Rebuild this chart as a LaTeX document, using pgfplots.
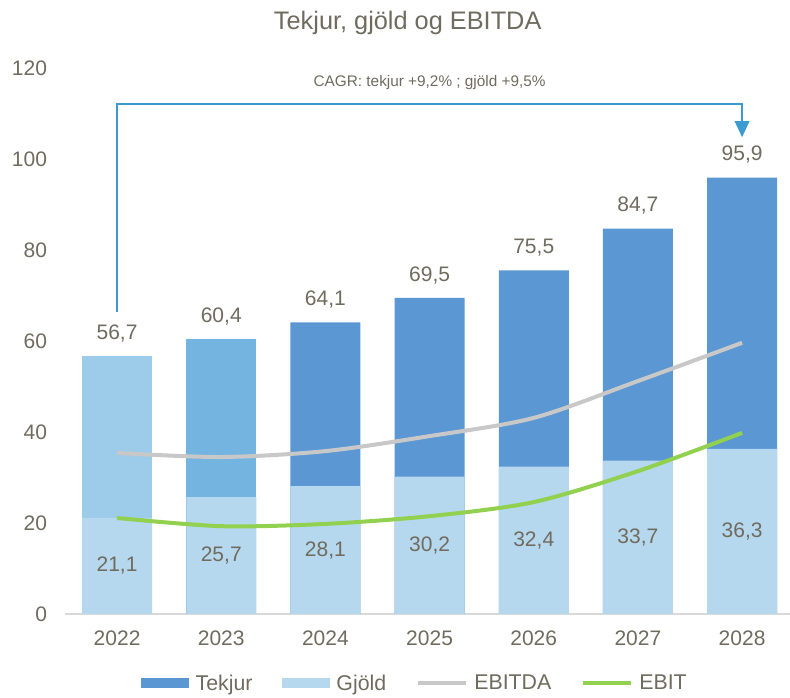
\documentclass[border=0pt]{standalone}
\usepackage{fontspec}
\setmainfont{Liberation Sans}
\usepackage{pgfplots}
\pgfplotsset{compat=1.18}
\usetikzlibrary{arrows.meta}
\definecolor{tekA}{HTML}{9DCBEA}
\definecolor{tekB}{HTML}{74B4E1}
\definecolor{tekC}{HTML}{5B97D3}
\definecolor{gjold}{HTML}{B6D8EE}
\definecolor{ebitda}{HTML}{C8C8C8}
\definecolor{ebit}{HTML}{92D050}
\definecolor{txt}{HTML}{706B5F}
\definecolor{arr}{HTML}{3C9AD3}
\definecolor{axl}{HTML}{D9D9D9}
\pgfplotsset{
  barleg/.style={legend image code/.code={\fill[##1] (0pt,-3.75pt) rectangle (36pt,3.75pt);}},
  lineleg/.style={legend image code/.code={\draw[##1] (0pt,0pt) -- (36pt,0pt);}},
  numlab/.style={nodes near coords={\pgfmathprintnumber[fixed,fixed zerofill,precision=1,use comma]{\pgfplotspointmeta}}},
}
\begin{document}
\begin{tikzpicture}
\useasboundingbox (-48.75pt,-63pt) rectangle (543.75pt,460.5pt);
\begin{axis}[
  at={(0pt,0pt)}, anchor=south west,
  scale only axis, width=543.75pt, height=409.5pt,
  xmin=-0.5, xmax=6.46, ymin=0, ymax=120,
  axis x line*=bottom, axis y line*=left,
  x axis line style={draw=axl, line width=1.5pt},
  y axis line style={draw=none},
  xtick={0,1,2,3,4,5,6},
  xticklabels={2022,2023,2024,2025,2026,2027,2028},
  ytick={0,20,40,60,80,100,120},
  major tick length=0pt,
  /pgf/number format/assume math mode=true,
  tick label style={font=\fontsize{15.75}{18}\selectfont, text=txt},
  xticklabel style={yshift=-9pt},
  yticklabel style={xshift=-10pt},
  clip=false,
  legend columns=4,
  legend style={draw=none, fill=none, at={(0.483,-0.127)}, anchor=center,
    font=\fontsize{16}{18}\selectfont, text=txt,
    /tikz/every even column/.append style={column sep=20pt},
    /tikz/every odd column/.append style={column sep=3pt},
    cells={anchor=west}},
  nodes near coords style={font=\fontsize{15.75}{18}\selectfont, text=txt},
]
% Tekjur
\addplot[ybar, bar width=0.672, bar shift=0pt, fill=tekA, draw=none, forget plot, numlab,
  every node near coord/.append style={anchor=south, yshift=7pt}]
  coordinates {(0,56.7)};
\addplot[ybar, bar width=0.672, bar shift=0pt, fill=tekB, draw=none, forget plot, numlab,
  every node near coord/.append style={anchor=south, yshift=7pt}]
  coordinates {(1,60.4)};
\addplot[ybar, bar width=0.672, bar shift=0pt, fill=tekC, draw=none, barleg, numlab,
  every node near coord/.append style={anchor=south, yshift=7pt}]
  coordinates {(2,64.1) (3,69.5) (4,75.5) (5,84.7) (6,95.9)};
\addlegendentry{Tekjur}
% Gjold
\addplot[ybar, bar width=0.672, bar shift=0pt, fill=gjold, draw=none, barleg, numlab,
  visualization depends on={y \as \rawy},
  every node near coord/.append style={anchor=center, yshift={-0.5*\rawy*3.4125pt}}]
  coordinates {(0,21.1) (1,25.7) (2,28.1) (3,30.2) (4,32.4) (5,33.7) (6,36.3)};
\addlegendentry{Gjöld}
% EBITDA
\addplot[ebitda, line width=3pt, smooth, tension=0.5, mark=none, lineleg]
  coordinates {(0,35.4) (1,34.5) (2,35.8) (3,39.1) (4,43.1) (5,51.2) (6,59.6)};
\addlegendentry{EBITDA}
% EBIT
\addplot[ebit, line width=3pt, smooth, tension=0.5, mark=none, lineleg]
  coordinates {(0,21.1) (1,19.3) (2,19.8) (3,21.5) (4,24.6) (5,31.4) (6,39.8)};
\addlegendentry{EBIT}
% CAGR bracket
\draw[arr, line width=1.1pt, -{Triangle[width=11pt,length=12pt]}]
  (axis cs:0,66.4) -- (axis cs:0,112.1) -- (axis cs:6,112.1) -- (axis cs:6,104.8);
\node[text=txt, font=\fontsize{11.5}{13}\selectfont] at (axis cs:3,116.9)
  {CAGR: tekjur +9,2\% ; gjöld +9,5\%};
\node[text=txt, font=\fontsize{19}{22}\selectfont] at (axis cs:2.79,129.9)
  {Tekjur, gjöld og EBITDA};
\end{axis}
\end{tikzpicture}
\end{document}
